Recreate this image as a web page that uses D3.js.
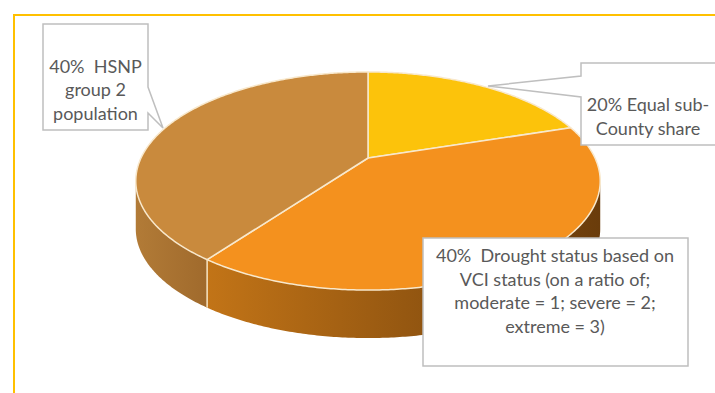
<!DOCTYPE html>
<html>
<head>
<meta charset="utf-8">
<script src="https://cdn.jsdelivr.net/npm/d3@7"></script>
<style>
  body { margin: 0; background: #fff; }
  svg { display: block; }
  .lbl { font-family: Lato, "Liberation Sans", sans-serif; font-size: 18px; fill: #595959; }
</style>
</head>
<body>
<script>
// slice data, clockwise from 12 o'clock
const categories = ["Equal sub-County share", "Drought status (VCI)", "HSNP group 2 population"];
const shares = [20, 40, 40];
const topColours = ["#FCC30B", "#F4911E", "#C98A3D"];
const sideColours = [["#D9A40A", "#B88A08"], ["#C27417", "#6A3C0B"], ["#B27B37", "#A06A2C"]];
const labelLines = [
    ["20% Equal sub-", "County share"],
    ["40%  Drought status based on", "VCI status (on a ratio of;", "moderate = 1; severe = 2;", "extreme = 3)"],
    ["40%  HSNP", "group 2", "population"]
];

const width = 715, height = 393;
const svg = d3.select("body").append("svg")
    .attr("width", width)
    .attr("height", height);
const defs = svg.append("defs");

// chart frame (cut off at right and bottom)
svg.append("path")
    .attr("d", "M14,393V15H715")
    .attr("fill", "none")
    .attr("stroke", "#FFC000")
    .attr("stroke-width", 2);

// perspective projection of a unit disk
const X0 = 368, Y0 = 158, A = 227, B = 104.2, k = 0.211, depth = 48;
function proj(a, r = 1, dy = 0) {
    const t = Math.PI / 2 - a;
    const x = r * Math.cos(t), y = r * Math.sin(t);
    const w = 1 + k * y;
    return [X0 + A * x / w, Y0 - B * y / w + dy];
}
function arcPts(a0, a1, dy) {
    const n = Math.max(2, Math.ceil(Math.abs(a1 - a0) / 0.01));
    return d3.range(n + 1).map(i => proj(a0 + (a1 - a0) * i / n, 1, dy));
}

const pie = d3.pie().sort(null).value(d => d)(shares);
const visLo = Math.PI / 2 + Math.asin(k), visHi = 3 * Math.PI / 2 - Math.asin(k);
const line = d3.line();

// side walls
const walls = svg.append("g");
pie.forEach((p, i) => {
    const a0 = Math.max(p.startAngle, visLo), a1 = Math.min(p.endAngle, visHi);
    if (a1 <= a0) return;
    const gid = "side" + i;
    const grad = defs.append("linearGradient").attr("id", gid)
        .attr("x1", 0).attr("x2", 1).attr("y1", 0).attr("y2", 0);
    grad.append("stop").attr("offset", 0).attr("stop-color", sideColours[i][0]);
    grad.append("stop").attr("offset", 1).attr("stop-color", sideColours[i][1]);
    const pts = arcPts(a0, a1, 0).concat(arcPts(a1, a0, depth));
    walls.append("path")
        .attr("d", line(pts) + "Z")
        .attr("fill", `url(#${gid})`);
});

// vertical edges between slices on the visible side
pie.forEach(p => {
    if (p.startAngle > visLo && p.startAngle < visHi) {
        const [x, y] = proj(p.startAngle);
        walls.append("line")
            .attr("x1", x).attr("y1", y).attr("x2", x).attr("y2", y + depth)
            .attr("stroke", "#F6E4C4").attr("stroke-width", 1.5);
    }
});

// top faces
svg.append("g").selectAll("path")
    .data(pie)
    .join("path")
    .attr("d", p => line([proj(0, 0)].concat(arcPts(p.startAngle, p.endAngle, 0))) + "Z")
    .attr("fill", (p, i) => topColours[i])
    .attr("stroke", "#F8E8CC")
    .attr("stroke-width", 1.5)
    .attr("stroke-linejoin", "round");

// callouts
const callouts = [
    { shape: "M581,63H716V145H581V97L488,86L581,76Z", cx: 648, y0: 111 },
    { shape: "M423,238H688V366H423Z", cx: 555, y0: 262 },
    { shape: "M43,24H148V87L163,128L148,113V130H43Z", cx: 95.5, y0: 72.5 }
];
const cg = svg.append("g");
callouts.forEach((c, i) => {
    cg.append("path")
        .attr("d", c.shape)
        .attr("fill", "#fff")
        .attr("stroke", "#BFBFBF")
        .attr("stroke-width", 1.5);
    const t = cg.append("text").attr("class", "lbl").attr("text-anchor", "middle");
    labelLines[i].forEach((s, j) => {
        t.append("tspan").attr("x", c.cx).attr("y", c.y0 + j * 23.6)
            .attr("xml:space", "preserve").style("white-space", "pre").text(s);
    });
});
</script>
</body>
</html>
